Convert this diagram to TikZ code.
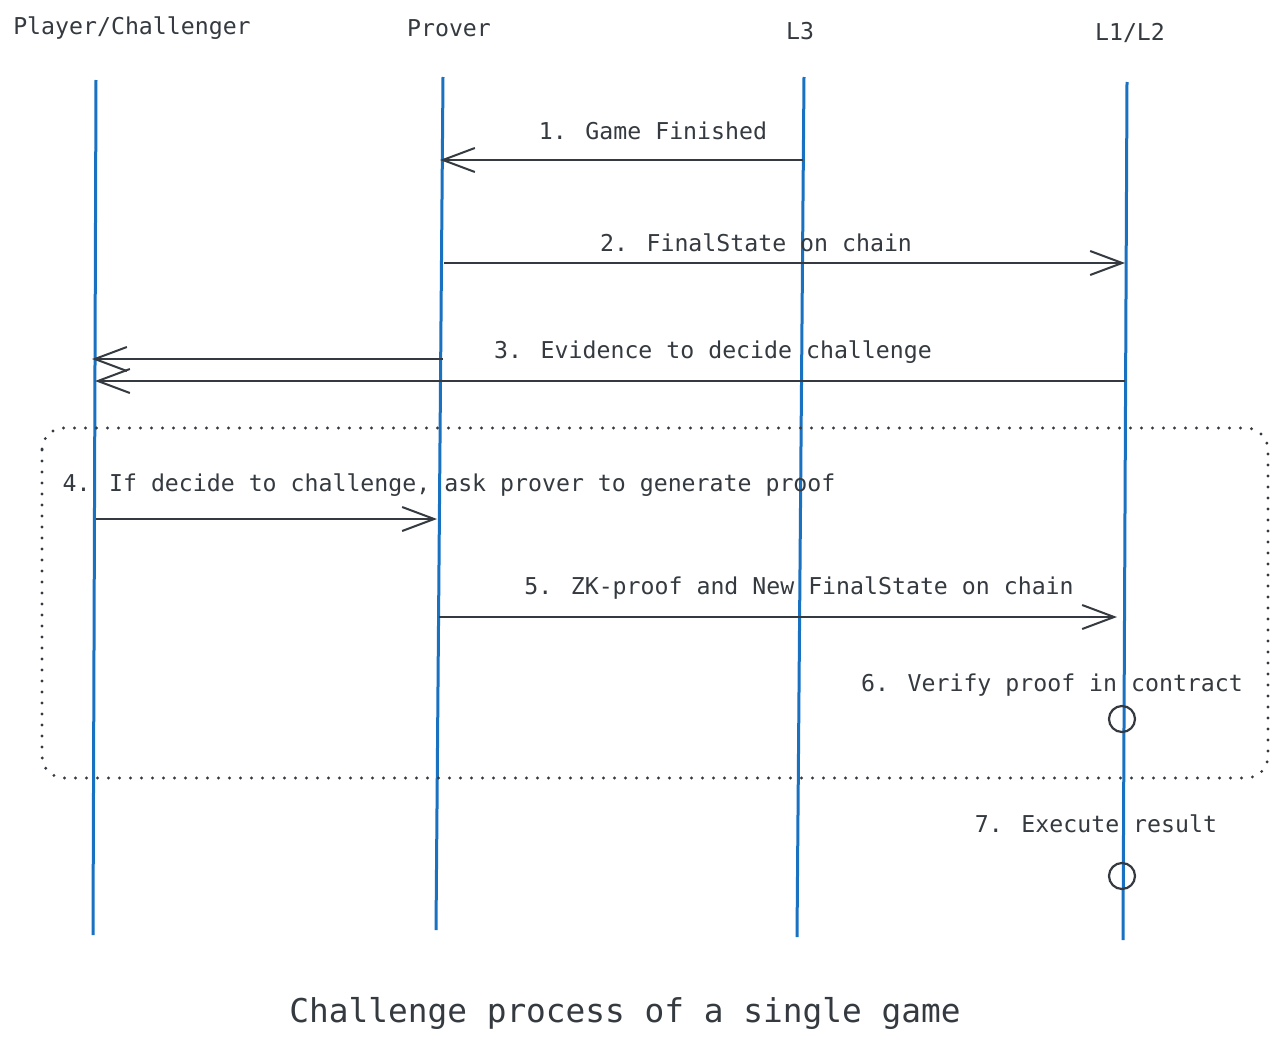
\documentclass[tikz,border=0pt]{standalone}
\usepackage{fontspec}
\usetikzlibrary{arrows.meta}
\newfontfamily\monofont{DejaVu Sans Mono}
\definecolor{ink}{HTML}{343A40}
\definecolor{lifeblue}{HTML}{1971C2}
\newcommand{\lbl}{\monofont\fontsize{11.6}{14}\selectfont}
\newcommand{\ttl}{\monofont\fontsize{16.4}{19}\selectfont}
\tikzset{
  life/.style={draw=lifeblue,line width=1.5pt},
  msg/.style={draw=ink,line width=1pt,-{Straight Barb[length=16pt,width=12pt,line width=1pt]}},
  event/.style={circle,draw=ink,line width=1.1pt,minimum size=13pt,inner sep=0pt},
  frame/.style={draw=ink,line width=1.6pt,line cap=round,dash pattern=on 0pt off 5.5pt,rounded corners=11pt}
}
\begin{document}
\begin{tikzpicture}[x=0.5pt,y=-0.5pt]
\tikzstyle{every node}+=[inner sep=0pt,text=ink,font=\lbl]
\fill [white] (0,0) rectangle (1280,1044);
\useasboundingbox (0,0) rectangle (1280,1044);
\node (player) at (132,28) {Player/Challenger};
\node (prover) at (449,28) {Prover};
\node (lthree) at (800,31) {L3};
\node (lonetwo) at (1130,33) {L1/L2};
\coordinate (playertop) at (96,80);
\coordinate (playerbot) at (93,935);
\coordinate (provertop) at (443,77);
\coordinate (proverbot) at (436,930);
\coordinate (lthreetop) at (804,77);
\coordinate (lthreebot) at (797,937);
\coordinate (lonetwotop) at (1127,82);
\coordinate (lonetwobot) at (1123,940);
\draw [life] (playertop) -- (playerbot);
\draw [life] (provertop) -- (proverbot);
\draw [life] (lthreetop) -- (lthreebot);
\draw [life] (lonetwotop) -- (lonetwobot);
\draw [frame] (42,428) rectangle (1268,778);
\coordinate (m1from) at (803,160);
\coordinate (m1to) at (440,160);
\draw [msg] (m1from) -- (m1to);
\node (m1) at (653,131) {1. Game Finished};
\coordinate (m2from) at (444,263);
\coordinate (m2to) at (1125,263);
\draw [msg] (m2from) -- (m2to);
\node (m2) at (756,243) {2. FinalState on chain};
\coordinate (m3afrom) at (443,359);
\coordinate (m3ato) at (92,359);
\draw [msg] (m3afrom) -- (m3ato);
\coordinate (m3bfrom) at (1125,381);
\coordinate (m3bto) at (95,381);
\draw [msg] (m3bfrom) -- (m3bto);
\node (m3) at (713,352) {3. Evidence to decide challenge};
\node (m4) at (449,485) {4. If decide to challenge, ask prover to generate proof};
\coordinate (m4from) at (96,519);
\coordinate (m4to) at (437,519);
\draw [msg] (m4from) -- (m4to);
\coordinate (m5from) at (439,617);
\coordinate (m5to) at (1117,617);
\draw [msg] (m5from) -- (m5to);
\node (m5) at (799,588) {5. ZK-proof and New FinalState on chain};
\node (m6) at (1052,685) {6. Verify proof in contract};
\node [event] (verify) at (1122,719) {};
\node (m7) at (1096,824) {7. Execute result};
\node [event] (execute) at (1122,876) {};
\node [font=\ttl] (title) at (625,1013) {Challenge process of a single game};
\end{tikzpicture}
\end{document}
